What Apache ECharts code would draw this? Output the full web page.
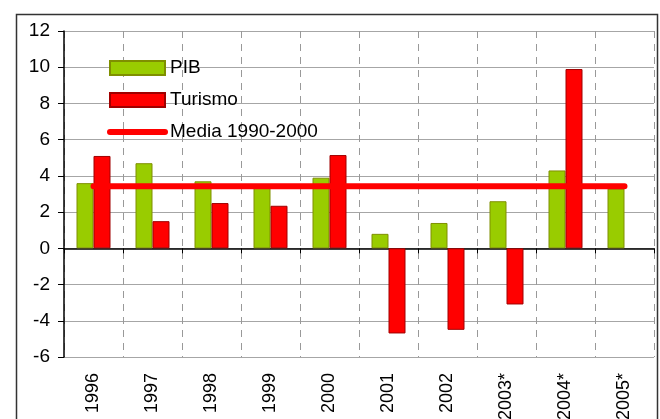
<!DOCTYPE html>
<html><head><meta charset="utf-8">
<script src="https://cdn.jsdelivr.net/npm/echarts@6/dist/echarts.min.js"></script>
<style>html,body{margin:0;padding:0;background:#fff}#c{width:660px;height:419px}</style>
</head><body><div id="c"></div>
<script>
const categories = ['1996','1997','1998','1999','2000','2001','2002','2003*','2004*','2005*'];
const pib = [3.6, 4.7, 3.7, 3.4, 3.9, 0.8, 1.4, 2.6, 4.3, 3.3];
const turismo = [5.1, 1.5, 2.5, 2.35, 5.15, -4.7, -4.5, -3.1, 9.9, null];
const media = [3.43, 3.43, 3.43, 3.43, 3.43, 3.43, 3.43, 3.43, 3.43, 3.43];
const yTicks = {min: -6, max: 12, interval: 2};

const font = 'Liberation Sans, Arial, sans-serif';
const chart = echarts.init(document.getElementById('c'), null, {renderer: 'canvas'});
chart.setOption({
  animation: false,
  backgroundColor: '#fff',
  graphic: [{
    type: 'rect', left: 14, top: 12, z: 100, silent: true,
    shape: {width: 641, height: 430},
    style: {fill: 'none', stroke: '#333', lineWidth: 1.5}
  }],
  grid: {left: 64, right: 6, top: 31, bottom: 62, containLabel: false, outerBoundsMode: 'none'},
  legend: {
    orient: 'vertical', left: 107, top: 58, itemGap: 12, padding: 0,
    itemWidth: 55, itemHeight: 14,
    textStyle: {fontFamily: font, fontSize: 19, color: '#000', lineHeight: 20, padding: [0,0,0,0]},
    data: [
      {name: 'PIB', icon: 'rect'},
      {name: 'Turismo', icon: 'rect'},
      {name: 'Media 1990-2000', itemStyle: {opacity: 0}, lineStyle: {width: 6, cap: 'round', color: '#FF0000'}}
    ]
  },
  xAxis: [{
    type: 'category', data: categories, position: 'bottom',
    axisLine: {onZero: true, lineStyle: {color: '#000', width: 1.5}},
    axisTick: {show: true, length: 5, lineStyle: {color: '#000'}},
    axisLabel: {show: false},
    splitLine: {show: true, lineStyle: {color: '#999', type: [7, 6], width: 1}}
  }, {
    type: 'category', data: categories, position: 'bottom',
    axisLine: {show: false, onZero: false},
    axisTick: {show: false},
    axisLabel: {rotate: 90, margin: 16, fontFamily: font, fontSize: 18, color: '#000'},
    splitLine: {show: false}
  }],
  yAxis: {
    type: 'value', min: yTicks.min, max: yTicks.max, interval: yTicks.interval,
    axisLine: {show: true, lineStyle: {color: '#000', width: 1.5}},
    axisTick: {show: true, length: 6, lineStyle: {color: '#000'}},
    axisLabel: {margin: 14, fontFamily: font, fontSize: 19, color: '#000'},
    splitLine: {show: true, lineStyle: {color: '#a6a6a6', width: 1}}
  },
  series: [{
    name: 'PIB', type: 'bar', data: pib, xAxisIndex: 0,
    barWidth: 17, barGap: '0%',
    itemStyle: {color: '#99CC00', borderColor: '#7F8F00', borderWidth: 1}
  }, {
    name: 'Turismo', type: 'bar', data: turismo, xAxisIndex: 0,
    barWidth: 17, barGap: '0%',
    itemStyle: {color: '#FF0000', borderColor: '#A00000', borderWidth: 1}
  }, {
    name: 'Media 1990-2000', type: 'line', data: media, xAxisIndex: 0,
    symbol: 'none', z: 5,
    lineStyle: {color: '#FF0000', width: 6, cap: 'round'},
    itemStyle: {color: '#FF0000'}
  }]
});
</script></body></html>
